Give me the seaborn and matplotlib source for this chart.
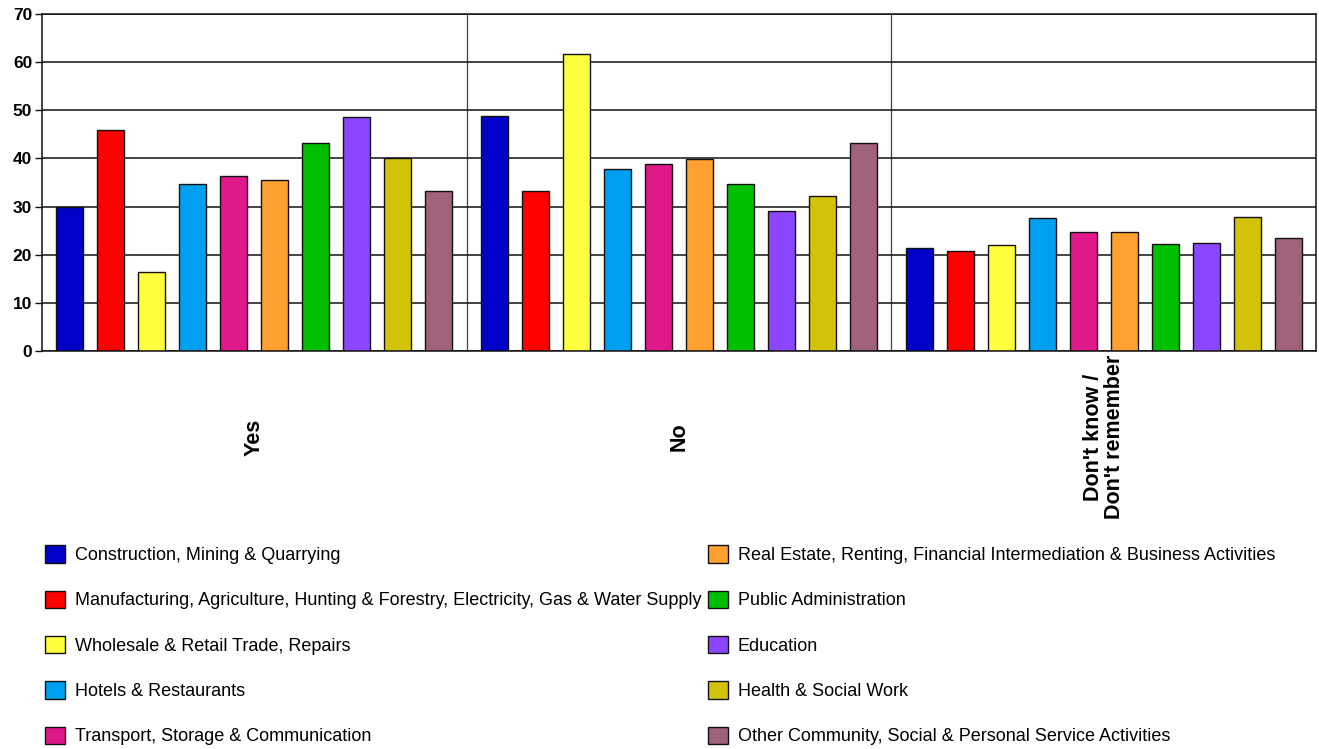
import matplotlib
matplotlib.use("Agg")
import matplotlib.pyplot as plt
import matplotlib.transforms as mtransforms
import pandas as pd
import seaborn as sns

answers = ["Yes", "No", "Don't know /\nDon't remember"]

sectors = [
    "Construction, Mining & Quarrying",
    "Manufacturing, Agriculture, Hunting & Forestry, Electricity, Gas & Water Supply",
    "Wholesale & Retail Trade, Repairs",
    "Hotels & Restaurants",
    "Transport, Storage & Communication",
    "Real Estate, Renting, Financial Intermediation & Business Activities",
    "Public Administration",
    "Education",
    "Health & Social Work",
    "Other Community, Social & Personal Service Activities",
]

yes_values = [29.9, 45.9, 16.5, 34.7, 36.3, 35.5, 43.2, 48.6, 40.0, 33.2]
no_values = [48.8, 33.2, 61.6, 37.8, 38.9, 39.8, 34.7, 29.1, 32.2, 43.2]
dont_know_values = [21.4, 20.8, 22.0, 27.6, 24.7, 24.7, 22.2, 22.5, 27.8, 23.4]

sector_colors = [
    "#0000C8", "#FF0000", "#FFFF40", "#00A0F0", "#E0198A",
    "#FFA030", "#00BE00", "#8C46FF", "#D2C30A", "#A0627A",
]

y_ticks = [0, 10, 20, 30, 40, 50, 60, 70]

rows = []
for answer, values in zip(answers, [yes_values, no_values, dont_know_values]):
    for sector, v in zip(sectors, values):
        rows.append({"answer": answer, "sector": sector, "percent": v})
df = pd.DataFrame(rows)

sns.set_theme(style="white")
plt.rcParams["font.family"] = ["Liberation Sans", "DejaVu Sans"]
plt.rcParams["text.color"] = "black"
plt.rcParams["xtick.color"] = "black"
plt.rcParams["ytick.color"] = "black"

fig = plt.figure(figsize=(13.19, 7.49), dpi=100)
ax = fig.add_axes([0.0318, 0.5314, 0.9659, 0.4499])

sns.barplot(
    data=df, x="answer", y="percent", hue="sector",
    order=answers, hue_order=sectors, palette=sector_colors,
    width=0.965, gap=0.34, edgecolor="#111111", linewidth=1.0,
    saturation=1, errorbar=None, ax=ax,
)

ax.set_ylim(0, 70)
ax.set_xlim(-0.5, 2.5)
ax.set_yticks(y_ticks)
ax.set_yticklabels([str(t) for t in y_ticks], fontsize=12.5,
                   fontweight="bold", color="black")
ax.yaxis.grid(True, color="#111111", linewidth=1.1)
ax.set_axisbelow(True)
for b in [0.5, 1.5]:
    ax.axvline(b, color="#444444", linewidth=0.9, zorder=0)
for s in ax.spines.values():
    s.set_color("#111111")
    s.set_linewidth(1.1)
ax.tick_params(axis="y", length=5, width=1.0, color="#111111", pad=2, left=True)
ax.tick_params(axis="x", length=0)
ax.set_xticklabels([])
ax.set_xlabel("")
ax.set_ylabel("")

trans = mtransforms.blended_transform_factory(ax.transData, ax.transAxes)
for i, answer in enumerate(answers):
    ax.text(i, -0.255, answer, transform=trans, rotation=90,
            ha="center", va="center", fontsize=15.5, fontweight="bold",
            color="black", multialignment="center", linespacing=1.0)

handles, labels = ax.get_legend_handles_labels()
ax.get_legend().remove()
leg = fig.legend(
    handles, labels, ncol=2, loc="upper left",
    bbox_to_anchor=(0.0341, 0.272), frameon=False,
    fontsize=13, handlelength=1.1, handleheight=1.1,
    handletextpad=0.55, labelspacing=1.47, columnspacing=0.38,
    borderaxespad=0, borderpad=0,
)
for t in leg.get_texts():
    t.set_color("black")

fig.savefig("out.png", dpi=100)
